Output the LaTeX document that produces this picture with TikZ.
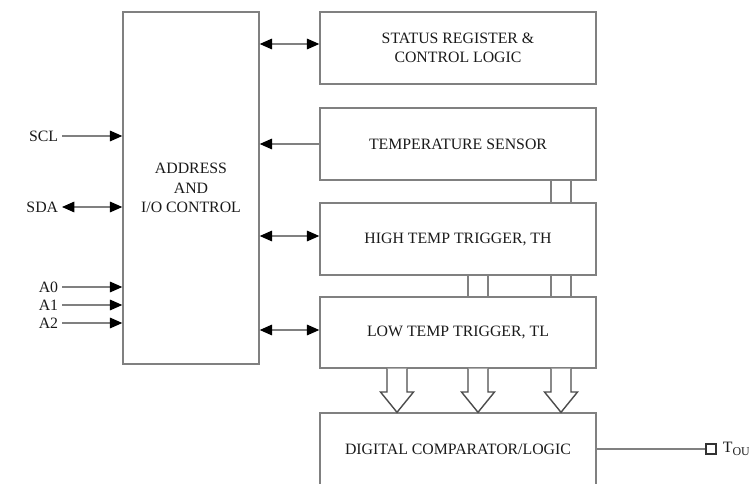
\documentclass[tikz,border=0pt]{standalone}
\usepackage{fontspec}
\setmainfont{Liberation Serif}
\usetikzlibrary{arrows.meta, positioning, calc}
\definecolor{lineGray}{gray}{0.5}
\definecolor{textBlack}{gray}{0.1}

\tikzset{
    blk/.style={draw=lineGray, line width=0.8pt, align=center, text=textBlack,
        font=\fontsize{9}{11}\selectfont, inner sep=0pt},
    regbox/.style={blk, minimum width=5.52cm, minimum height=1.44cm},
    sig/.style={draw=lineGray, line width=0.8pt},
    pin/.style={text=textBlack, font=\fontsize{9}{11}\selectfont, left, inner sep=2pt}
}

\begin{document}
\begin{tikzpicture}[>={Triangle[length=7pt, width=6pt, color=black]}]
    \useasboundingbox (0,0) rectangle (14.98,9.66);
    \clip (0,0) rectangle (14.98,9.66);

    % main blocks
    \node[blk, minimum width=2.72cm, minimum height=7.04cm] (addr) at (3.82,5.90) {ADDRESS\\AND\\I/O CONTROL};
    \node[regbox] (status) at (9.16,8.70) {STATUS REGISTER \&\\CONTROL LOGIC};
    \node[regbox] (temp) at (9.16,6.78) {TEMPERATURE SENSOR};
    \node[regbox] (high) at (9.16,4.88) {HIGH TEMP TRIGGER, TH};
    \node[regbox, minimum height=1.42cm] (low) at (9.16,3.01) {LOW TEMP TRIGGER, TL};
    \node[regbox] (comp) at (9.16,0.68) {DIGITAL COMPARATOR/LOGIC};

    % block to I/O control
    \coordinate (sR) at ($(status.west)+(0,0.08)$);
    \draw[sig, <->] (addr.east |- sR) -- (sR);
    \draw[sig, ->] (temp.west) -- (addr.east |- temp.west);
    \coordinate (hR) at ($(high.west)+(0,0.06)$);
    \draw[sig, <->] (addr.east |- hR) -- (hR);
    \coordinate (lR) at ($(low.west)+(0,0.05)$);
    \draw[sig, <->] (addr.east |- lR) -- (lR);

    % serial pins
    \coordinate (scl) at (1.24,6.94);
    \coordinate (sda) at (1.24,5.52);
    \coordinate (a0) at (1.24,3.92);
    \coordinate (a1) at (1.24,3.56);
    \coordinate (a2) at (1.24,3.20);
    \node[pin] (sclL) at (scl) {SCL};
    \node[pin] (sdaL) at (sda) {SDA};
    \node[pin] (a0L) at (a0) {A0};
    \node[pin] (a1L) at (a1) {A1};
    \node[pin] (a2L) at (a2) {A2};
    \draw[sig, ->] (scl) -- (addr.west |- scl);
    \draw[sig, <->] (sda) -- (addr.west |- sda);
    \foreach \p in {a0, a1, a2}
        \draw[sig, ->] (\p) -- (addr.west |- \p);

    % buses between registers
    \foreach \x in {11.02, 11.42}
        \draw[sig] (\x,0 |- temp.south) -- (\x,0 |- high.north);
    \foreach \x in {9.36, 9.76, 11.02, 11.42}
        \draw[sig] (\x,0 |- high.south) -- (\x,0 |- low.north);

    % hollow arrows into comparator
    \foreach \x in {7.94, 9.56, 11.22}
        \draw[sig, draw=gray!60!black, fill=white, line join=miter]
            (\x-0.2,0 |- low.south) -- (\x-0.2,1.82) -- (\x-0.33,1.82)
            -- (\x,0 |- comp.north) -- (\x+0.33,1.82) -- (\x+0.2,1.82)
            -- (\x+0.2,0 |- low.south);

    % output pin
    \node[draw=gray!40!black, line width=0.6pt, minimum size=0.2cm, inner sep=0pt] (tsq) at (14.22,0.68) {};
    \draw[sig] (comp.east) -- (tsq.west);
    \node[right=0.12cm of tsq, inner sep=0pt, text=textBlack, font=\fontsize{9}{11}\selectfont] (tout)
        {T\raisebox{-0.35ex}{\fontsize{6.8}{7}\selectfont OU}};
\end{tikzpicture}
\end{document}
